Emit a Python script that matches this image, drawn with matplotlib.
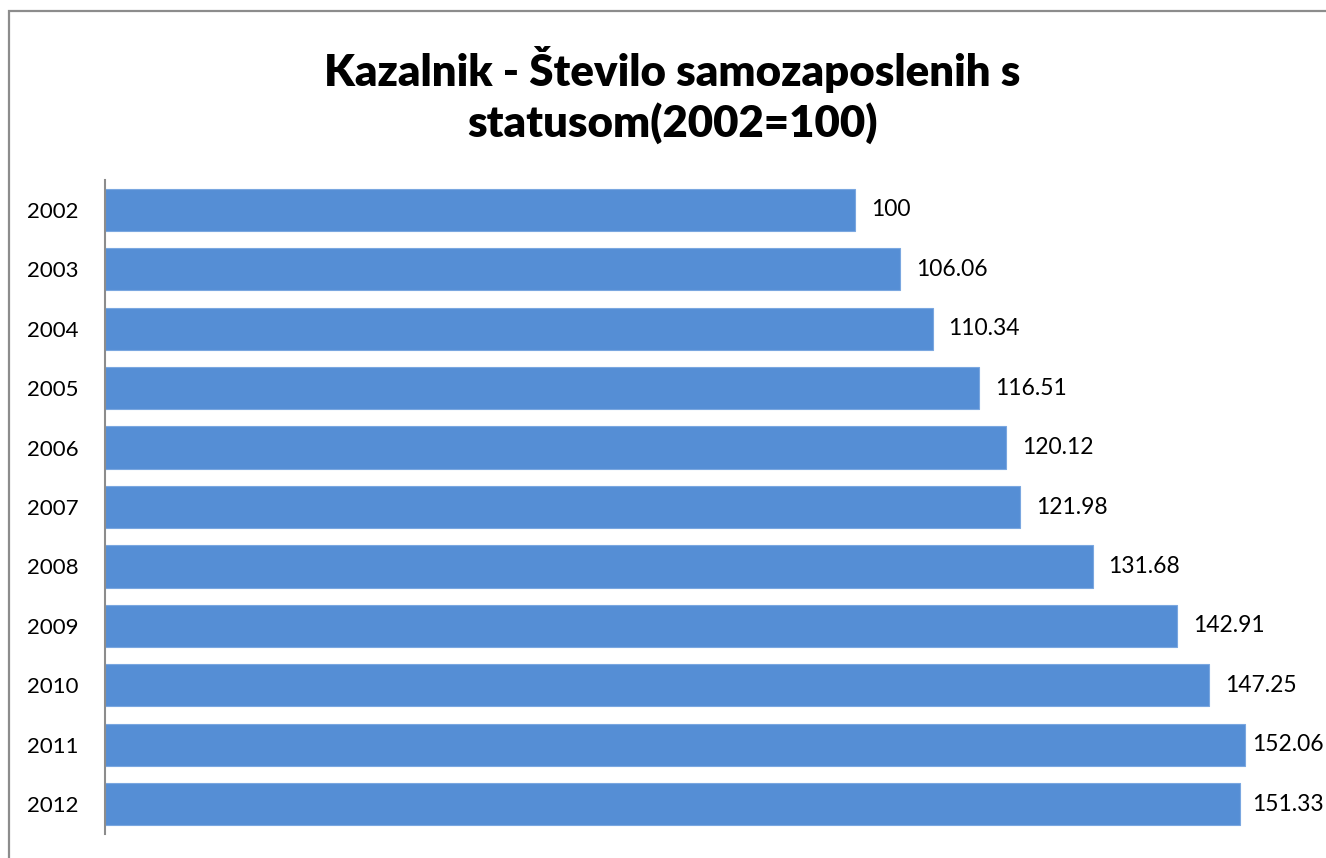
import matplotlib.pyplot as plt
from matplotlib.patches import Rectangle

years = ['2002', '2003', '2004', '2005', '2006', '2007',
         '2008', '2009', '2010', '2011', '2012']
values = [100, 106.06, 110.34, 116.51, 120.12, 121.98,
          131.68, 142.91, 147.25, 152.06, 151.33]
labels = ['100', '106.06', '110.34', '116.51', '120.12', '121.98',
          '131.68', '142.91', '147.25', '152.06', '151.33']

plt.rcParams['font.family'] = ['Lato', 'DejaVu Sans']

W, H = 1326, 858
fig = plt.figure(figsize=(W / 100, H / 100), dpi=100)

# outer chart frame (cut off at right and bottom like the reference)
fig.patches.append(Rectangle((9 / W, -0.1), 1.2, 1.1 - 11 / H,
                             transform=fig.transFigure, fill=False,
                             edgecolor='#8c8c8c', linewidth=1.6))

ax = fig.add_axes([105 / W, 1 - 834 / H, 1200 / W, 654 / H])
pos = list(range(len(years)))
ax.barh(pos, values, height=0.71, color='#558ed5',
        edgecolor='#7aa7e0', linewidth=0.8)
ax.set_ylim(len(years) - 0.5, -0.5)
ax.set_xlim(0, 160)

# labels sit right of the bar, but are pushed back so they stay inside
px = 160 / 1200.0
for p, v, t in zip(pos, values, labels):
    x = min(v + 16 * px, 152.9)
    ax.text(x, p, t, ha='left', va='center', fontsize=16.5, color='black')

ax.set_yticks(pos)
ax.set_yticklabels(years, fontsize=16)
ax.tick_params(axis='y', length=0, pad=19)
ax.set_xticks([])
for s in ['top', 'right', 'bottom']:
    ax.spines[s].set_visible(False)
ax.spines['left'].set_color('#8c8c8c')
ax.spines['left'].set_linewidth(1.5)

fig.text(672 / W, 1 - 95 / H,
         'Kazalnik - Število samozaposlenih s\nstatusom(2002=100)',
         ha='center', va='center', fontsize=31.5, fontweight='heavy',
         linespacing=1.24)

fig.savefig('out.png', dpi=100)
